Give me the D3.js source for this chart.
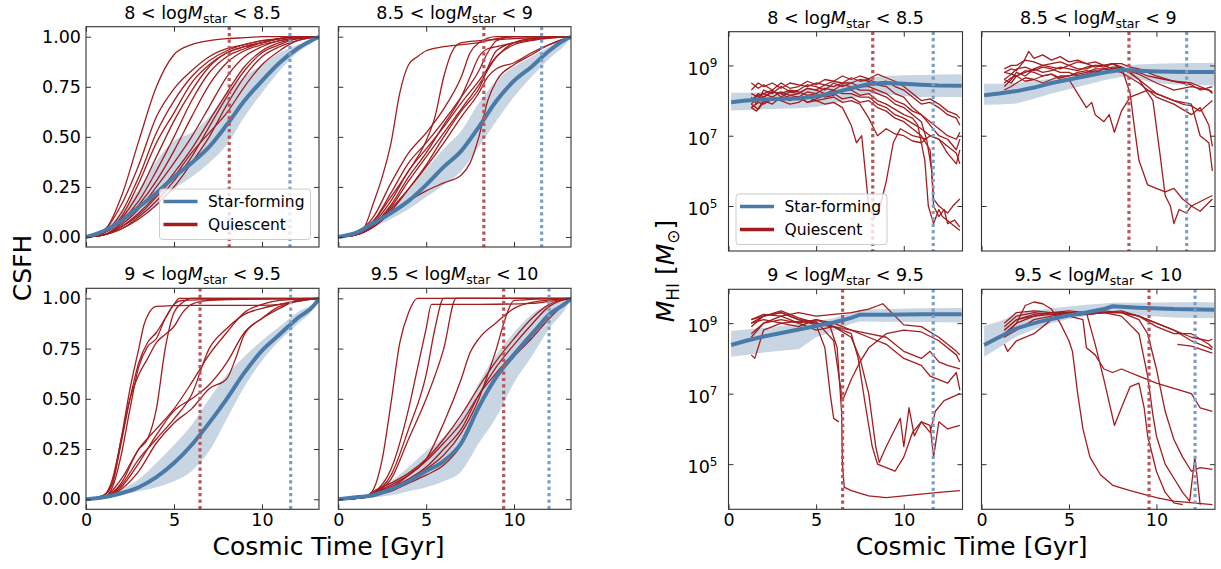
<!DOCTYPE html>
<html>
<head>
<meta charset="utf-8">
<script src="https://cdn.jsdelivr.net/npm/d3@7"></script>
<style>
    body { margin: 0; background: #ffffff; }
    svg { font-family: "DejaVu Sans", sans-serif; }
</style>
</head>
<body>
<svg id="fig" width="1221" height="569"></svg>
<script>
"use strict";

// ---- data ----

const massBins = [ ["8", "8.5"], ["8.5", "9"], ["9", "9.5"], ["9.5", "10"] ];

const csfhTicks = [0, 0.25, 0.5, 0.75, 1];
const timeTicks = [0, 5, 10];
const mhiTicks = [1e5, 1e7, 1e9];

// median quenching times (red) and star-forming reference (blue), Gyr
const quenchTimeCsfh = [8.14, 8.28, 6.48, 9.41];
const sfTimeCsfh = [11.59, 11.57, 11.63, 11.99];
const quenchTimeHI = [8.23, 8.43, 6.51, 9.58];
const sfTimeHI = [11.68, 11.73, 11.68, 12.21];

// star-forming median + spread, CSFH
const csfhGrid = [0, 1, 2, 3, 4, 5, 6, 7, 8, 9, 10, 11, 12, 13, 13.24];
const csfhMed = [
    [0, 0.03, 0.08, 0.15, 0.22, 0.30, 0.37, 0.45, 0.56, 0.68, 0.78, 0.87, 0.94, 0.99, 1],
    [0, 0.02, 0.07, 0.12, 0.18, 0.26, 0.35, 0.43, 0.55, 0.68, 0.78, 0.85, 0.93, 0.99, 1],
    [0, 0.01, 0.03, 0.06, 0.11, 0.18, 0.27, 0.38, 0.50, 0.63, 0.74, 0.82, 0.90, 0.97, 1],
    [0, 0.01, 0.02, 0.05, 0.09, 0.14, 0.19, 0.28, 0.46, 0.61, 0.72, 0.82, 0.92, 0.98, 1]
];
const csfhLo = [
    [0, 0.02, 0.05, 0.10, 0.16, 0.24, 0.30, 0.37, 0.46, 0.60, 0.72, 0.83, 0.92, 0.98, 1],
    [0, 0.01, 0.05, 0.09, 0.14, 0.20, 0.26, 0.33, 0.45, 0.58, 0.70, 0.80, 0.89, 0.97, 1],
    [0, 0.005, 0.02, 0.04, 0.06, 0.09, 0.14, 0.24, 0.40, 0.56, 0.69, 0.79, 0.87, 0.96, 1],
    [0, 0.005, 0.01, 0.02, 0.04, 0.06, 0.09, 0.14, 0.28, 0.41, 0.58, 0.71, 0.85, 0.96, 1]
];
const csfhHi = [
    [0, 0.04, 0.12, 0.24, 0.38, 0.48, 0.52, 0.60, 0.72, 0.80, 0.86, 0.92, 0.96, 0.99, 1],
    [0, 0.02, 0.09, 0.16, 0.24, 0.34, 0.44, 0.53, 0.67, 0.78, 0.85, 0.90, 0.95, 0.99, 1],
    [0, 0.01, 0.05, 0.10, 0.18, 0.27, 0.37, 0.50, 0.62, 0.71, 0.79, 0.86, 0.93, 0.98, 1],
    [0, 0.01, 0.04, 0.09, 0.16, 0.24, 0.31, 0.41, 0.58, 0.72, 0.83, 0.92, 0.97, 0.99, 1]
];

// quiescent CSFH tracks, [t, csfh]
const csfhQ1 = [
    [[0,0],[1,0.03],[2,0.2],[3,0.48],[4,0.75],[5,0.91],[6,0.96],[7,0.98],[8,0.99],[9,0.995],[10,1],[13.24,1]],
    [[0,0],[1,0.03],[2,0.16],[3,0.36],[4,0.6],[5,0.74],[6,0.83],[7,0.9],[8,0.94],[9,0.96],[10,0.98],[11,0.99],[12,1],[13.24,1]],
    [[0,0],[1,0.02],[2,0.12],[3,0.3],[4,0.52],[5,0.68],[6,0.8],[7,0.88],[8,0.93],[9,0.96],[10,0.98],[11,0.99],[12,1],[13.24,1]],
    [[0,0],[1,0.02],[2,0.1],[3,0.27],[4,0.47],[5,0.62],[6,0.77],[7,0.86],[8,0.92],[9,0.95],[10,0.97],[11,0.99],[12,1],[13.24,1]],
    [[0,0],[1,0.02],[2,0.09],[3,0.22],[4,0.4],[5,0.58],[6,0.73],[7,0.85],[8,0.92],[9,0.95],[10,0.97],[11,0.99],[12,1],[13.24,1]],
    [[0,0],[1,0.02],[2,0.08],[3,0.18],[4,0.33],[5,0.5],[6,0.68],[7,0.82],[8,0.9],[9,0.94],[10,0.97],[11,0.99],[12,1],[13.24,1]],
    [[0,0],[1,0.01],[2,0.07],[3,0.16],[4,0.28],[5,0.43],[6,0.6],[7,0.76],[8,0.87],[9,0.93],[10,0.96],[11,0.98],[12,0.995],[13.24,1]],
    [[0,0],[1,0.01],[2,0.06],[3,0.14],[4,0.25],[5,0.37],[6,0.5],[7,0.65],[8,0.8],[9,0.9],[10,0.95],[11,0.98],[12,0.99],[13.24,1]],
    [[0,0],[1,0.01],[2,0.05],[3,0.12],[4,0.21],[5,0.32],[6,0.44],[7,0.58],[8,0.72],[9,0.85],[10,0.93],[11,0.97],[12,0.99],[13.24,1]],
    [[0,0],[1,0.01],[2,0.04],[3,0.1],[4,0.18],[5,0.28],[6,0.4],[7,0.55],[8,0.7],[9,0.83],[10,0.92],[11,0.96],[12,0.99],[13.24,1]],
    [[0,0],[1,0.01],[2,0.04],[3,0.09],[4,0.16],[5,0.25],[6,0.37],[7,0.5],[8,0.66],[9,0.8],[10,0.9],[11,0.95],[12,0.98],[13.24,1]],
    [[0,0],[1,0.01],[2,0.05],[3,0.11],[4,0.2],[5,0.3],[6,0.42],[7,0.52],[8,0.62],[9,0.75],[10,0.86],[11,0.93],[12,0.98],[13.24,1]]
];
const csfhQ2 = [
    [[0,0],[1,0.01],[1.5,0.05],[2,0.17],[2.5,0.3],[3,0.47],[3.5,0.72],[4,0.86],[4.5,0.9],[5,0.93],[6,0.95],[7,0.96],[8,0.97],[9,0.99],[10,1],[13.24,1]],
    [[0,0],[1,0.02],[2,0.1],[3,0.27],[4,0.42],[5,0.52],[6,0.64],[7,0.8],[7.5,0.92],[8,0.97],[9,1],[13.24,1]],
    [[0,0],[1,0.02],[2,0.08],[3,0.22],[4,0.37],[5,0.47],[6,0.58],[7,0.7],[8,0.83],[8.5,0.92],[9,0.98],[10,1],[13.24,1]],
    [[0,0],[1,0.01],[2,0.07],[3,0.18],[4,0.33],[5,0.44],[6,0.55],[7,0.67],[8,0.78],[9,0.9],[10,0.97],[11,0.99],[13.24,1]],
    [[0,0],[1,0.01],[2,0.06],[3,0.15],[4,0.28],[5,0.4],[6,0.52],[7,0.64],[8,0.76],[9,0.9],[10,0.96],[11,0.98],[13.24,1]],
    [[0,0],[1,0.01],[2,0.05],[3,0.13],[4,0.24],[5,0.36],[6,0.5],[7,0.63],[8,0.74],[9,0.93],[10,0.97],[13.24,1]],
    [[0,0],[1,0.01],[2,0.08],[3,0.2],[4,0.33],[5,0.48],[5.5,0.6],[6,0.8],[6.5,0.93],[7,0.97],[8,0.98],[10,0.99],[13.24,1]],
    [[0,0],[1,0.01],[2,0.05],[3,0.12],[4,0.18],[5,0.23],[6,0.27],[7,0.31],[7.5,0.37],[8,0.5],[8.5,0.68],[9,0.78],[10,0.86],[11,0.91],[12,0.96],[13.24,1]],
    [[0,0],[1,0.01],[2,0.06],[3,0.14],[4,0.24],[5,0.35],[6,0.47],[7,0.6],[8,0.72],[8.5,0.8],[9,0.84],[10,0.87],[11,0.92],[12,0.96],[13.24,1]],
    [[0,0],[1,0.01],[2,0.06],[3,0.16],[4,0.3],[5,0.42],[6,0.56],[7,0.7],[7.5,0.8],[8,0.9],[8.5,0.94],[9,0.95],[10,0.97],[11,0.99],[13.24,1]]
];
const csfhQ3 = [
    [[0,0],[1,0.02],[1.5,0.08],[2,0.3],[2.5,0.55],[3,0.75],[3.3,0.87],[3.6,0.93],[4,0.96],[6,0.965],[10,0.965],[11,0.97],[12,0.99],[13.24,1]],
    [[0,0],[1,0.02],[1.5,0.08],[2,0.28],[2.5,0.5],[3,0.68],[3.5,0.78],[4,0.83],[4.5,0.9],[5,0.97],[5.3,1],[13.24,1]],
    [[0,0],[1,0.02],[1.5,0.1],[2,0.3],[2.5,0.5],[3,0.62],[3.5,0.7],[4,0.78],[4.5,0.82],[5,0.86],[5.5,0.93],[6,0.97],[7,0.99],[13.24,1]],
    [[0,0],[1,0.01],[1.5,0.06],[2,0.22],[2.5,0.45],[3,0.66],[3.5,0.76],[4,0.8],[4.5,0.9],[5,0.97],[5.5,0.99],[13.24,1]],
    [[0,0],[1,0.01],[2,0.08],[3,0.25],[3.5,0.3],[4,0.45],[4.5,0.75],[5,0.93],[5.5,0.98],[6,1],[13.24,1]],
    [[0,0],[1,0.01],[2,0.1],[3,0.25],[4,0.35],[5,0.45],[6,0.58],[7,0.72],[8,0.83],[9,0.93],[10,0.97],[11,0.99],[13.24,1]],
    [[0,0],[1,0.01],[2,0.07],[3,0.2],[4,0.3],[5,0.4],[6,0.52],[7,0.75],[8,0.85],[9,0.92],[10,0.95],[11,0.97],[13.24,1]],
    [[0,0],[1,0.01],[2,0.06],[3,0.18],[4,0.32],[5,0.44],[6,0.5],[7,0.57],[8,0.68],[9,0.83],[10,0.9],[11,0.95],[12,0.99],[13.24,1]],
    [[0,0],[1,0.01],[2,0.05],[3,0.14],[4,0.28],[5,0.38],[6,0.45],[7,0.55],[8,0.6],[8.5,0.7],[9,0.82],[10,0.9],[11,0.96],[13.24,1]]
];
const csfhQ4 = [
    [[0,0],[1,0.005],[1.5,0.01],[2,0.05],[2.5,0.2],[3,0.48],[3.5,0.78],[4,0.93],[4.5,1],[13.24,1]],
    [[0,0],[1.5,0.01],[2,0.03],[3,0.15],[4,0.45],[4.5,0.65],[5,0.85],[5.3,0.97],[8,0.97],[11,0.975],[12,0.985],[13.24,1]],
    [[0,0],[1.5,0.01],[2,0.03],[3,0.12],[4,0.35],[5,0.62],[5.5,0.85],[6,1],[13.24,1]],
    [[0,0],[1.5,0.01],[2,0.03],[3,0.1],[4,0.3],[5,0.5],[6,0.75],[6.7,1],[13.24,1]],
    [[0,0],[1.5,0.01],[2,0.03],[3,0.06],[4,0.12],[5,0.2],[6,0.38],[7,0.6],[7.5,0.73],[8,0.8],[9,0.88],[10,0.95],[11,0.98],[13.24,1]],
    [[0,0],[1.5,0.01],[2,0.02],[3,0.05],[4,0.1],[5,0.15],[6,0.22],[7,0.33],[8,0.5],[8.5,0.62],[9,0.75],[9.5,0.9],[10,0.99],[13.24,1]],
    [[0,0],[1.5,0.01],[2,0.03],[3,0.07],[4,0.12],[5,0.19],[6,0.28],[7,0.38],[8,0.52],[9,0.63],[10,0.73],[11,0.83],[12,0.92],[13.24,1]],
    [[0,0],[1.5,0.01],[2,0.02],[3,0.04],[4,0.08],[5,0.12],[6,0.17],[7,0.27],[8,0.45],[9,0.6],[10,0.71],[11,0.8],[12,0.9],[13.24,1]],
    [[0,0],[1.5,0.01],[2,0.03],[3,0.06],[4,0.1],[5,0.16],[6,0.25],[7,0.35],[8,0.52],[9,0.66],[10,0.77],[11,0.87],[12,0.96],[13.24,1]],
    [[0,0],[1.5,0.01],[2,0.04],[3,0.08],[4,0.13],[5,0.2],[6,0.3],[7,0.42],[8,0.56],[9,0.69],[10,0.8],[11,0.9],[12,0.97],[13.24,1]]
];

// star-forming median + spread of HI mass, log10(M_HI)
const hiGridA = [0.15, 1, 2, 3, 4, 5, 6, 7, 8, 9, 10, 11, 12, 13.3];
const hiGridB = [0.15, 1, 2, 3, 4, 5, 6, 7, 7.5, 9, 11, 13.3];
const hiMed = [
    [7.95, 8.0, 8.03, 8.05, 8.06, 8.12, 8.22, 8.35, 8.47, 8.5, 8.48, 8.45, 8.43, 8.42],
    [8.15, 8.2, 8.27, 8.37, 8.5, 8.6, 8.7, 8.8, 8.88, 8.85, 8.83, 8.82, 8.81, 8.81],
    [8.38, 8.5, 8.62, 8.72, 8.82, 8.92, 9.02, 9.15, 9.24, 9.24, 9.25, 9.25],
    [8.38, 8.6, 8.85, 9.0, 9.12, 9.22, 9.3, 9.4, 9.48, 9.44, 9.4, 9.38]
];
const hiLo = [
    [7.72, 7.73, 7.75, 7.77, 7.78, 7.82, 7.92, 8.05, 8.18, 8.18, 8.13, 8.1, 8.1, 8.1],
    [7.88, 7.89, 7.92, 8.05, 8.2, 8.32, 8.45, 8.58, 8.67, 8.6, 8.5, 8.46, 8.44, 8.43],
    [8.05, 8.1, 8.17, 8.22, 8.26, 8.6, 8.78, 8.98, 9.05, 9.04, 9.03, 9.02],
    [8.05, 8.3, 8.62, 8.82, 9.0, 9.12, 9.2, 9.28, 9.3, 9.22, 9.16, 9.14]
];
const hiHi = [
    [8.22, 8.22, 8.24, 8.27, 8.3, 8.35, 8.45, 8.58, 8.66, 8.7, 8.72, 8.73, 8.74, 8.75],
    [8.48, 8.48, 8.5, 8.56, 8.63, 8.72, 8.82, 8.92, 9.0, 9.03, 9.05, 9.06, 9.07, 9.07],
    [8.78, 8.82, 8.86, 8.92, 8.98, 9.06, 9.14, 9.3, 9.38, 9.4, 9.42, 9.43],
    [8.92, 9.05, 9.25, 9.36, 9.42, 9.47, 9.52, 9.56, 9.58, 9.58, 9.59, 9.59]
];

// quiescent HI tracks, [t, log10 M_HI]
const hiQ1 = [
    [[1.3,8.5],[1.7,8.35],[2,8.45],[2.5,8.3],[3,8.5],[3.5,8.35],[4,8.4],[4.5,8.55],[5,8.45],[5.5,8.6],[6,8.55],[6.5,8.7],[7,8.6],[7.5,8.7],[8,8.62],[8.5,8.75],[9,8.65],[9.5,8.55],[10,8.4],[10.5,8.2],[11,8.0],[11.5,8.05],[12,7.9],[12.5,7.7],[13,7.6],[13.2,7.5]],
    [[1.3,8.3],[1.7,8.5],[2,8.4],[2.5,8.5],[3,8.35],[3.5,8.5],[4,8.45],[4.5,8.4],[5,8.5],[5.5,8.45],[6,8.55],[6.5,8.5],[7,8.65],[7.5,8.55],[8,8.6],[8.5,8.5],[9,8.55],[9.5,8.4],[10,8.3],[10.5,8.1],[11,7.9],[11.5,7.95],[12,7.8],[12.5,7.6],[13,7.5],[13.2,7.3]],
    [[1.3,8.1],[1.6,7.9],[2,8.3],[2.5,8.2],[3,8.4],[3.5,8.25],[4,8.3],[4.5,8.45],[5,8.4],[5.5,8.3],[6,8.5],[6.5,8.4],[7,8.5],[7.5,8.6],[8,8.55],[8.5,8.45],[9,8.4],[9.5,8.2],[10,8.1],[10.5,7.8],[11,7.6],[11.5,7.3],[12,7.0],[12.5,6.9],[13,6.6],[13.2,6.9]],
    [[1.3,8.0],[1.7,8.15],[2,8.2],[2.5,8.1],[3,8.25],[3.5,8.15],[4,8.2],[4.5,8.35],[5,8.3],[5.5,8.2],[6,8.3],[6.5,8.45],[7,8.4],[7.5,8.3],[8,8.3],[8.5,8.2],[9,8.1],[9.5,7.9],[10,7.8],[10.5,7.6],[11,7.4],[11.3,6.9],[11.6,6.0],[11.7,5.0],[12,4.7],[12.3,4.9],[12.5,4.5],[12.9,4.6],[13.2,4.4]],
    [[1.3,7.9],[1.6,8.05],[2,8.1],[2.5,8.25],[3,8.2],[3.5,8.05],[4,8.1],[4.5,8.25],[5,8.2],[5.5,8.1],[6,8.15],[6.5,8.3],[7,8.3],[7.5,8.15],[8,8.2],[8.5,8.0],[9,7.9],[9.5,7.75],[10,7.6],[10.5,7.5],[10.8,7.3],[11.2,6.3],[11.4,5.0],[11.7,4.5],[12,4.9],[12.2,4.7],[12.7,4.5],[13.2,4.3]],
    [[1.3,7.8],[1.6,7.7],[2,8.0],[2.5,7.9],[3,8.1],[3.5,8.0],[4,8.1],[4.5,7.95],[5,8.05],[5.5,8.15],[6,8.2],[6.5,8.05],[7,8.1],[7.5,7.95],[8,8.0],[8.5,7.8],[9,7.7],[9.5,7.5],[10,7.4],[10.5,7.2],[11,7.0],[11.5,6.6],[11.7,5.2],[12,5.0],[12.5,4.8],[12.8,5.0],[13.2,5.2]],
    [[1.3,7.9],[1.7,7.75],[2,7.95],[2.5,8.05],[3,8.0],[3.5,7.9],[4,7.95],[4.5,8.1],[5,8.0],[5.5,8.05],[6,8.1],[6.5,7.95],[7,8.0],[7.5,7.9],[8,7.5],[8.5,7.0],[9,7.2],[9.5,7.05],[10,7.0],[10.5,6.85],[11,6.8],[11.5,7.0],[12,6.9],[12.5,6.5],[13,6.2],[13.2,6.6]],
    [[1.3,7.8],[1.7,7.95],[2,7.9],[2.5,8.05],[3,8.0],[3.5,8.15],[4,8.1],[4.5,7.95],[5,8.0],[5.5,7.9],[6,7.95],[6.5,7.8],[7,7.3],[7.3,6.8],[7.6,7.0],[7.8,6.0],[8.0,5.0],[8.3,4.7],[8.6,4.9],[9.0,5.7],[9.4,6.8],[9.8,7.2],[10.5,7.0],[11.3,6.9]],
    [[1.3,8.2],[1.7,8.1],[2,8.2],[2.5,8.3],[3,8.1],[3.5,8.25],[4,8.2],[4.5,8.35],[5,8.3],[5.5,8.45],[6,8.4],[6.5,8.5],[7,8.5],[7.5,8.4],[8,8.4],[8.5,8.3],[9,8.2],[9.5,8.0],[10,7.9],[10.5,7.7],[11,7.6],[11.5,7.4],[12,7.2],[12.5,7.0],[13,6.9],[13.2,7.1]],
    [[1.3,8.0],[1.7,8.2],[2,8.1],[2.5,8.25],[3,8.2],[3.5,8.3],[4,8.25],[4.5,8.15],[5,8.2],[5.5,8.35],[6,8.3],[6.5,8.2],[7,8.2],[7.5,8.1],[8,8.1],[8.5,7.9],[9,7.8],[9.5,7.6],[10,7.5],[10.5,7.35],[11,7.2],[11.5,7.0],[12,6.9],[12.5,6.7],[13,6.5],[13.2,6.2]]
];
const hiQ2 = [
    [[1.3,8.8],[1.7,8.9],[2,8.85],[2.4,9.1],[2.7,9.4],[3,9.2],[3.5,9.3],[4,9.15],[4.5,9.25],[5,9.1],[5.5,9.15],[6,9.05],[6.5,9.1],[7,9.0],[7.5,9.05],[8,8.95],[8.5,8.85],[9,8.8],[9.5,8.7],[10,8.65],[10.5,8.6],[11,8.55],[11.5,8.5],[12,8.45],[12.5,8.3],[13.2,8.4]],
    [[1.3,8.5],[1.7,8.65],[2,8.7],[2.5,8.85],[3,8.8],[3.5,8.7],[4,8.75],[4.5,8.6],[5,8.6],[5.5,8.2],[6,7.8],[6.3,7.95],[6.5,7.6],[7,7.4],[7.3,7.6],[7.6,7.1],[8,7.7],[8.5,8.1],[9,8.2],[9.5,8.3],[10,8.2],[10.5,8.1],[11,8.0],[11.5,7.9],[12,7.85],[12.5,7.7],[13.2,8.0]],
    [[1.3,8.6],[1.7,8.5],[2,8.7],[2.5,8.8],[3,8.9],[3.5,8.8],[4,8.85],[4.5,8.95],[5,8.9],[5.5,8.85],[6,8.95],[6.5,9.0],[7,9.0],[7.5,8.9],[8,8.95],[8.5,8.2],[8.7,7.4],[9,6.3],[9.5,5.6],[10,5.5],[10.5,5.4],[11,5.5],[11.5,5.2],[12,5.0],[13.2,5.3]],
    [[1.3,8.4],[1.7,8.6],[2,8.8],[2.5,8.7],[3,8.9],[3.5,9.0],[4,8.95],[4.5,8.9],[5,9.0],[5.5,9.1],[6,9.05],[6.5,8.95],[7,9.0],[7.5,9.05],[8,8.9],[8.5,8.8],[9,8.6],[9.8,8.0],[10.2,6.5],[10.5,5.3],[10.8,5.0],[11,4.5],[11.3,4.9],[11.7,4.8],[12,5.0],[12.5,4.85],[13.2,5.2]],
    [[1.3,8.9],[1.7,9.0],[2,9.0],[2.5,9.15],[3,9.1],[3.5,9.0],[4,9.05],[4.5,9.1],[5,9.0],[5.5,8.9],[6,8.9],[6.5,9.0],[7,8.95],[7.5,9.05],[8,9.05],[8.5,8.95],[9,8.9],[9.5,8.8],[10,8.7],[11,8.55],[12,8.5],[13,8.3],[13.2,8.2]],
    [[1.3,8.6],[1.7,8.75],[2,8.7],[2.5,8.55],[3,8.6],[3.5,8.7],[4,8.75],[4.5,8.65],[5,8.7],[5.5,8.8],[6,8.85],[6.5,8.8],[7,8.9],[7.5,8.85],[8,8.8],[9,8.5],[10,8.1],[11,7.9],[12,7.6],[12.5,7.8],[13,7.3],[13.2,6.7]],
    [[1.3,8.3],[1.7,8.4],[2,8.5],[2.5,8.65],[3,8.6],[3.5,8.5],[4,8.6],[4.5,8.7],[5,8.7],[5.5,8.75],[6,8.8],[6.5,8.9],[7,8.9],[7.5,8.95],[8,8.95],[9,8.6],[10,8.2],[11,8.0],[12,7.9],[12.5,7.0],[13,6.8],[13.2,6.0]],
    [[1.3,8.8],[1.7,8.75],[2,8.9],[2.5,8.95],[3,8.85],[3.5,8.95],[4,8.9],[4.5,8.8],[5,8.8],[5.5,8.7],[6,8.75],[6.5,8.85],[7,8.8],[7.5,8.9],[8,8.9],[9,8.75],[10,8.5],[11,8.3],[12,8.4],[13,8.3],[13.2,8.25]]
];
const hiQ3 = [
    [[1.3,8.9],[2,9.2],[3,9.3],[4,9.1],[5,8.95],[5.5,8.3],[5.8,7.0],[6,6.3],[6.3,6.2]],
    [[1.3,9.1],[2,9.2],[3,9.35],[4,9.15],[5,9.0],[5.8,8.9],[6.2,8.3],[6.45,6.5],[6.5,5.0],[6.6,4.35],[7,4.25],[8,4.1],[9,4.05],[10,4.1],[11,4.15],[12,4.2],[13.2,4.25]],
    [[1.3,9.0],[2,9.2],[3,9.3],[4,9.1],[5,9.05],[6,8.5],[6.3,7.5],[6.5,6.8],[7,7.4],[7.5,7.9],[8,8.3],[9,8.7],[10,8.8],[11,8.75],[12,8.5],[13,8.1],[13.2,7.9]],
    [[1.3,8.7],[2,9.0],[3,9.2],[4,9.3],[5,9.2],[6,9.25],[7,9.3],[8,9.4],[8.8,9.55],[9.5,9.2],[10,8.95],[11,8.9],[12,8.6],[13,8.2],[13.2,8.1]],
    [[1.3,8.6],[2,9.0],[3,9.1],[4,9.0],[5,9.1],[6,8.9],[7,8.6],[7.5,8.0],[8,7.0],[8.4,5.5],[8.6,5.05],[9,5.5],[9.5,6.0],[9.8,6.3],[10,5.5],[10.3,6.6],[10.6,5.8],[11,6.2],[11.5,6.1],[11.7,5.2],[12,6.2],[12.5,6.0],[13.2,6.1]],
    [[1.3,9.0],[2,9.1],[3,9.0],[4,9.05],[5,9.0],[6,8.9],[7,8.7],[7.4,8.0],[7.8,6.7],[8.2,5.5],[8.5,5.0],[9,4.9],[9.5,4.8],[10,5.2],[10.5,5.9],[11,6.2],[11.5,5.9],[11.8,6.5],[12.3,6.8],[13.2,7.0]],
    [[1.3,8.1],[1.5,8.0],[2,8.8],[3,9.0],[4,8.9],[5,9.1],[6,9.0],[7,8.8],[8,8.6],[9,8.4],[10,8.0],[11,7.8],[11.5,7.5],[12,7.4],[12.5,7.3],[13,7.6],[13.2,7.1]],
    [[1.3,9.1],[2,9.25],[3,9.2],[4,9.0],[5,8.8],[6,8.9],[7,8.8],[8,8.7],[9,8.6],[10,8.2],[11,8.0],[11.5,8.2],[12,7.9],[12.5,7.8],[13.2,7.7]]
];
const hiQ4 = [
    [[1.3,8.6],[2,9.0],[2.5,9.5],[3,9.6],[3.5,9.55],[4,9.4],[4.5,9.0],[5,8.5],[5.2,8.2],[5.5,7.0],[5.8,6.0],[6.2,5.2],[6.8,4.7],[7.5,4.4],[8.5,4.25],[10,4.05],[11,3.95],[13.2,3.85]],
    [[1.3,8.7],[2,9.0],[3,9.2],[4,9.25],[5,9.2],[5.8,9.1],[6.0,8.3],[6.5,8.1],[7,7.7],[7.5,7.6],[8,7.7],[9,7.5],[10,7.3],[11,7.15],[12,7.0],[12.5,6.6],[13.2,6.5]],
    [[1.3,9.0],[2,9.3],[3,9.35],[4,9.3],[5,9.25],[6,9.3],[6.5,8.4],[7,7.4],[7.6,6.1],[8,6.6],[8.5,7.2],[9,7.3],[9.3,6.6],[9.5,5.8],[10,4.8],[10.5,4.2],[11,3.9],[11.5,3.85]],
    [[1.3,8.8],[2,9.1],[3,9.25],[4,9.3],[5,9.3],[6,9.25],[7,9.3],[8,9.3],[9,9.1],[9.5,8.7],[10,7.7],[10.5,6.5],[11,5.7],[11.5,5.2],[12,4.8],[12.5,4.9],[13.2,4.85]],
    [[1.3,8.4],[1.5,8.2],[2,8.5],[3,8.7],[4,9.1],[5,9.2],[6,9.25],[7,9.3],[8,9.2],[9,8.7],[9.5,7.5],[9.8,6.4],[10,5.8],[10.5,5.0],[11,4.6],[11.5,4.2],[11.9,3.95],[12.2,5.2],[12.5,3.85]],
    [[1.3,8.9],[2,9.2],[3,9.3],[4,9.25],[5,9.3],[6,9.25],[7,9.3],[8,9.3],[9,9.2],[10,9.0],[11,8.8],[12,8.5],[13,8.3],[13.2,8.25]],
    [[1.3,8.8],[2,9.1],[3,9.2],[4,9.3],[5,9.35],[6,9.3],[7,9.35],[8,9.3],[9,9.2],[10,9.0],[11,8.8],[12,8.6],[13,8.5],[13.2,8.55]],
    [[1.3,8.6],[2,8.8],[3,9.1],[4,9.2],[5,9.3],[6,9.3],[7,9.3],[8,9.35],[9,9.2],[10,8.9],[11,8.7],[12,8.7],[13,8.4],[13.2,8.3]],
    [[11.2,8.4],[12,8.35],[13.2,8.15]]
];

// ---- drawing ----

const RED = "#a31d1f";
const BLUE = "#4a7aa7";
const BAND = "#c8d6e3";
const RED_DOT = "#b6585b";
const BLUE_DOT = "#7c9fc3";

const svg = d3.select("#fig");

const leftCols = [[86, 319], [338.3, 571]];
const rightCols = [[728.5, 962.5], [981.5, 1215]];
const leftRows = [[26.7, 247], [288.3, 509.3]];
const rightRows = [[31.7, 251], [289.3, 509.3]];

const panels = [];
massBins.forEach(function(bin, i) {
    const col = i % 2, row = Math.floor(i / 2);
    panels.push({ kind: "csfh", i, col, row, xr: leftCols[col], yr: leftRows[row] });
});
massBins.forEach(function(bin, i) {
    const col = i % 2, row = Math.floor(i / 2);
    panels.push({ kind: "hi", i, col, row, xr: rightCols[col], yr: rightRows[row] });
});

const csfhRed = [csfhQ1, csfhQ2, csfhQ3, csfhQ4];
const hiRed = [hiQ1, hiQ2, hiQ3, hiQ4];
const hiGrids = [hiGridA, hiGridA, hiGridB, hiGridB];

panels.forEach(drawPanel);

function drawPanel(p) {

    const isHI = p.kind === "hi";
    const [x0, x1] = p.xr;
    const [y0, y1] = p.yr;

    const x = d3.scaleLinear()
        .domain([0, isHI ? 13.35 : 13.24])
        .range([x0, x1]);

    const y = isHI
        ? d3.scaleLog().domain([Math.pow(10, 3.72), Math.pow(10, 9.96)]).range([y1, y0])
        : d3.scaleLinear().domain([-0.05, 1.05]).range([y1, y0]);

    const yv = isHI ? (v => y(Math.pow(10, v))) : (v => y(v));

    const g = svg.append("g");
    const clipId = "clip-" + p.kind + p.i;
    g.append("clipPath").attr("id", clipId)
        .append("rect")
        .attr("x", x0).attr("y", y0)
        .attr("width", x1 - x0).attr("height", y1 - y0);

    const plot = g.append("g").attr("clip-path", "url(#" + clipId + ")");

    // star-forming spread + median
    const grid = isHI ? hiGrids[p.i] : csfhGrid;
    const med = isHI ? hiMed[p.i] : csfhMed[p.i];
    const lo = isHI ? hiLo[p.i] : csfhLo[p.i];
    const hi = isHI ? hiHi[p.i] : csfhHi[p.i];
    const bandData = grid.map((t, k) => [t, lo[k], hi[k], med[k]]);
    const curve = isHI ? d3.curveLinear : d3.curveMonotoneX;

    plot.append("path")
        .datum(bandData)
        .attr("fill", BAND)
        .attr("d", d3.area()
            .curve(curve)
            .x(d => x(d[0]))
            .y0(d => yv(d[1]))
            .y1(d => yv(d[2])));

    // quiescent tracks
    const tracks = isHI ? hiRed[p.i] : csfhRed[p.i];
    plot.selectAll("path.track")
        .data(tracks)
        .enter().append("path")
        .attr("class", "track")
        .attr("fill", "none")
        .attr("stroke", RED)
        .attr("stroke-width", 1.3)
        .attr("stroke-linejoin", "round")
        .attr("d", d3.line()
            .curve(isHI ? d3.curveLinear : d3.curveMonotoneX)
            .x(d => x(d[0]))
            .y(d => yv(d[1])));

    plot.append("path")
        .datum(bandData)
        .attr("fill", "none")
        .attr("stroke", BLUE)
        .attr("stroke-width", 4)
        .attr("stroke-linejoin", "round")
        .attr("d", d3.line()
            .curve(curve)
            .x(d => x(d[0]))
            .y(d => yv(d[3])));

    // quench-time markers
    const qt = isHI ? quenchTimeHI[p.i] : quenchTimeCsfh[p.i];
    const st = isHI ? sfTimeHI[p.i] : sfTimeCsfh[p.i];
    [[qt, RED_DOT], [st, BLUE_DOT]].forEach(function(m) {
        plot.append("line")
            .attr("x1", x(m[0])).attr("x2", x(m[0]))
            .attr("y1", y0).attr("y2", y1)
            .attr("stroke", m[1])
            .attr("stroke-width", 3.2)
            .attr("stroke-dasharray", "3.2,3.2");
    });

    // axes, ticks pointing inward on all four sides
    const yTicks = isHI ? mhiTicks : csfhTicks;
    const showY = p.col === 0;
    const showX = p.row === 1;

    const left = g.append("g")
        .attr("transform", "translate(" + x0 + ",0)")
        .call(d3.axisLeft(y).tickValues(yTicks)
            .tickSizeInner(-5).tickSizeOuter(0)
            .tickPadding(isHI ? 11 : 5)
            .tickFormat(showY ? (isHI ? (() => "") : d3.format(".2f")) : () => ""));

    if (showY && isHI) {
        left.selectAll(".tick text")
            .attr("dy", "0.5em")
            .each(function(d) {
                const t = d3.select(this);
                t.append("tspan").text("10");
                t.append("tspan")
                    .attr("dy", "-0.62em")
                    .attr("font-size", "12px")
                    .text(Math.round(Math.log10(d)));
            });
    }

    g.append("g")
        .attr("transform", "translate(" + x1 + ",0)")
        .call(d3.axisRight(y).tickValues(yTicks).tickSizeInner(-5).tickSizeOuter(0).tickFormat(() => ""));

    g.append("g")
        .attr("transform", "translate(0," + y0 + ")")
        .call(d3.axisTop(x).tickValues(timeTicks).tickSizeInner(-5).tickSizeOuter(0).tickFormat(() => ""));

    g.append("g")
        .attr("transform", "translate(0," + y1 + ")")
        .call(d3.axisBottom(x).tickValues(timeTicks)
            .tickSizeInner(-5).tickSizeOuter(0).tickPadding(4)
            .tickFormat(showX ? d3.format("d") : () => ""));

    g.selectAll(".domain").remove();
    g.selectAll(".tick line").attr("stroke", "#333").attr("stroke-width", 1);
    g.selectAll(".tick").attr("font-size", null);
    g.selectAll("g").attr("font-size", 17.5).attr("font-family", null).attr("fill", null);
    g.selectAll(".tick text").attr("fill", "#000");

    g.append("rect")
        .attr("x", x0).attr("y", y0)
        .attr("width", x1 - x0).attr("height", y1 - y0)
        .attr("fill", "none")
        .attr("stroke", "#333")
        .attr("stroke-width", 1.1);

    // panel title
    const bin = massBins[p.i];
    const title = g.append("text")
        .attr("x", (x0 + x1) / 2)
        .attr("y", y0 - 8)
        .attr("text-anchor", "middle")
        .attr("font-size", 17.5);
    title.append("tspan").text(bin[0] + " < log");
    title.append("tspan").attr("font-style", "italic").text("M");
    title.append("tspan").attr("font-size", 12.5).attr("dy", 4).text("star");
    title.append("tspan").attr("dy", -4).text(" < " + bin[1]);

    if (p.col === 0 && p.row === 0) {
        drawLegend(g, isHI ? [736, 194] : [159.5, 189]);
    }
}

function drawLegend(g, pos) {
    const lg = g.append("g").attr("transform", "translate(" + pos[0] + "," + pos[1] + ")");
    lg.append("rect")
        .attr("width", 151).attr("height", 50.5)
        .attr("rx", 3)
        .attr("fill", "#ffffff").attr("fill-opacity", 0.8)
        .attr("stroke", "#cccccc").attr("stroke-width", 1);
    const entries = [["Star-forming", BLUE], ["Quiescent", RED]];
    entries.forEach(function(e, k) {
        const cy = 12.5 + k * 23;
        lg.append("line")
            .attr("x1", 4).attr("x2", 38)
            .attr("y1", cy).attr("y2", cy)
            .attr("stroke", e[1]).attr("stroke-width", 3.5);
        lg.append("text")
            .attr("x", 48.5).attr("y", cy + 5.5)
            .attr("font-size", 15.5)
            .text(e[0]);
    });
}

// axis labels
svg.append("text")
    .attr("transform", "translate(31,268) rotate(-90)")
    .attr("text-anchor", "middle")
    .attr("font-size", 25)
    .text("CSFH");

const hiLabel = svg.append("text")
    .attr("transform", "translate(674,271) rotate(-90)")
    .attr("text-anchor", "middle")
    .attr("font-size", 25);
hiLabel.append("tspan").attr("font-style", "italic").text("M");
hiLabel.append("tspan").attr("font-size", 17).attr("dy", 5).text("HI");
hiLabel.append("tspan").attr("dy", -5).text(" [");
hiLabel.append("tspan").attr("font-style", "italic").text("M");
hiLabel.append("tspan").attr("font-size", 17).attr("dy", 5).text("\u2299");
hiLabel.append("tspan").attr("dy", -5).text("]");

[[328.5, "Cosmic Time [Gyr]"], [971.7, "Cosmic Time [Gyr]"]].forEach(function(a) {
    svg.append("text")
        .attr("x", a[0]).attr("y", 555)
        .attr("text-anchor", "middle")
        .attr("font-size", 25)
        .text(a[1]);
});
</script>
</body>
</html>
